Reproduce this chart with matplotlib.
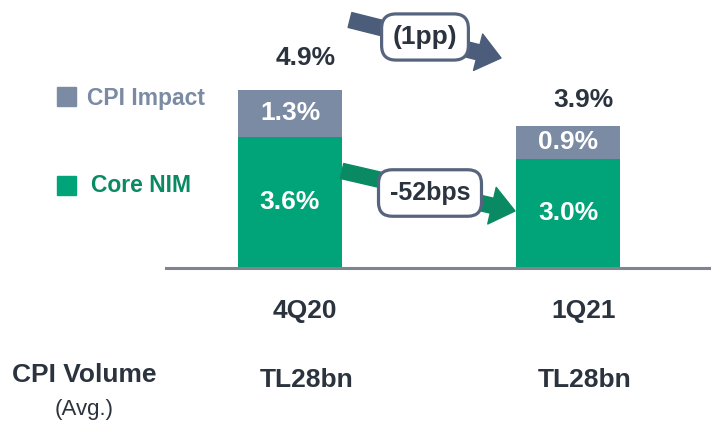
import matplotlib
matplotlib.use("Agg")
import matplotlib.pyplot as plt
import matplotlib.patches as patches

plt.rcParams["font.family"] = ["Liberation Sans Narrow", "Liberation Sans", "DejaVu Sans"]
plt.rcParams["font.weight"] = "bold"

# datos
quarters = ["4Q20", "1Q21"]
core_nim = [3.6, 3.0]
cpi_impact = [1.3, 0.9]
totals = [4.9, 3.9]
cpi_volume = ["TL28bn", "TL28bn"]
change_total = "(1pp)"
change_core = "-52bps"

GREEN = "#00A478"
GREEN_DARK = "#0A8A62"
GRAY = "#7A8BA3"
NAVY = "#4B5D7A"
TEXT = "#2B333F"

W, H = 711, 422
fig = plt.figure(figsize=(W / 100, H / 100), dpi=100)

# ejes: base en y=268px, 36.4 px por punto porcentual, barras en x=290 y 568
ax = fig.add_axes([166 / W, 1 - 268 / H, 1 - 166 / W, 268 / H])
ax.set_xlim(-124 / 278, -124 / 278 + 545 / 278)
ax.set_ylim(0, 268 / 36.4)

x = list(range(len(quarters)))
ax.bar(x, core_nim, width=0.374, color=GREEN, zorder=2)
ax.bar(x, cpi_impact, width=0.374, bottom=core_nim, color=GRAY, zorder=2)

for i in x:
    ax.text(i, core_nim[i] / 2, f"{core_nim[i]:.1f}%", ha="center", va="center",
            color="white", fontsize=19, zorder=3)
    ax.text(i, core_nim[i] + cpi_impact[i] / 2, f"{cpi_impact[i]:.1f}%", ha="center",
            va="center", color="white", fontsize=19, zorder=3)
    ax.annotate(f"{totals[i]:.1f}%", (i, totals[i]), xytext=(11, 14 if i == 0 else 10),
                textcoords="offset points", ha="center", va="bottom",
                color=TEXT, fontsize=19, annotation_clip=False)
    ax.annotate(quarters[i], (i, 0), xytext=(11, -31), textcoords="offset points",
                ha="center", va="center", color=TEXT, fontsize=19,
                annotation_clip=False)
    ax.annotate(cpi_volume[i], (i, 0), xytext=(12, -80.5), textcoords="offset points",
                ha="center", va="center", color=TEXT, fontsize=19,
                annotation_clip=False)

for s in ["top", "right", "left"]:
    ax.spines[s].set_visible(False)
ax.spines["bottom"].set_color("#7F8490")
ax.spines["bottom"].set_linewidth(2.2)
ax.set_xticks([])
ax.set_yticks([])
ax.patch.set_alpha(0)

# flechas
def px(xp, yp):
    return ((xp - 290) / 278, (268 - yp) / 36.4)

arrow_style = "simple,tail_width=11,head_width=27,head_length=17"
top_arrow = patches.FancyArrowPatch(px(350, 20), px(501, 58), arrowstyle=arrow_style,
                                    mutation_scale=1, color=NAVY, shrinkA=0, shrinkB=0,
                                    zorder=4, clip_on=False)
ax.add_patch(top_arrow)
low_arrow = patches.FancyArrowPatch(px(342, 171), px(515, 211), arrowstyle=arrow_style,
                                    mutation_scale=1, color=GREEN_DARK, shrinkA=0,
                                    shrinkB=0, zorder=4, clip_on=False)
ax.add_patch(low_arrow)

box = dict(boxstyle="round,pad=0.42,rounding_size=0.55", facecolor="white",
           edgecolor="#56657D", linewidth=2.3)
ax.text(*px(425, 37), change_total, ha="center", va="center", color=TEXT,
        fontsize=19, bbox=box, zorder=5, clip_on=False)
ax.text(*px(430, 193), change_core, ha="center", va="center", color=TEXT,
        fontsize=18, bbox=dict(box, boxstyle="round,pad=0.45,rounding_size=0.55"),
        zorder=5, clip_on=False)

# leyenda
fig.patches.append(patches.Rectangle((57 / W, 1 - 106 / H), 19 / W, 19 / H,
                                     transform=fig.transFigure, color=GRAY))
fig.patches.append(patches.Rectangle((57 / W, 1 - 195 / H), 19 / W, 19 / H,
                                     transform=fig.transFigure, color=GREEN))
fig.text(87 / W, 1 - 98 / H, "CPI Impact", ha="left", va="center", color=GRAY,
         fontsize=16.5)
fig.text(91 / W, 1 - 186 / H, "Core NIM", ha="left", va="center", color=GREEN_DARK,
         fontsize=16.5)

fig.text(84 / W, 1 - 375 / H, "CPI Volume", ha="center", va="center", color=TEXT,
         fontsize=19)
fig.text(84 / W, 1 - 409 / H, "(Avg.)", ha="center", va="center", color=TEXT,
         fontsize=16, fontweight="normal")

fig.savefig("out.png", dpi=100, facecolor="white")
